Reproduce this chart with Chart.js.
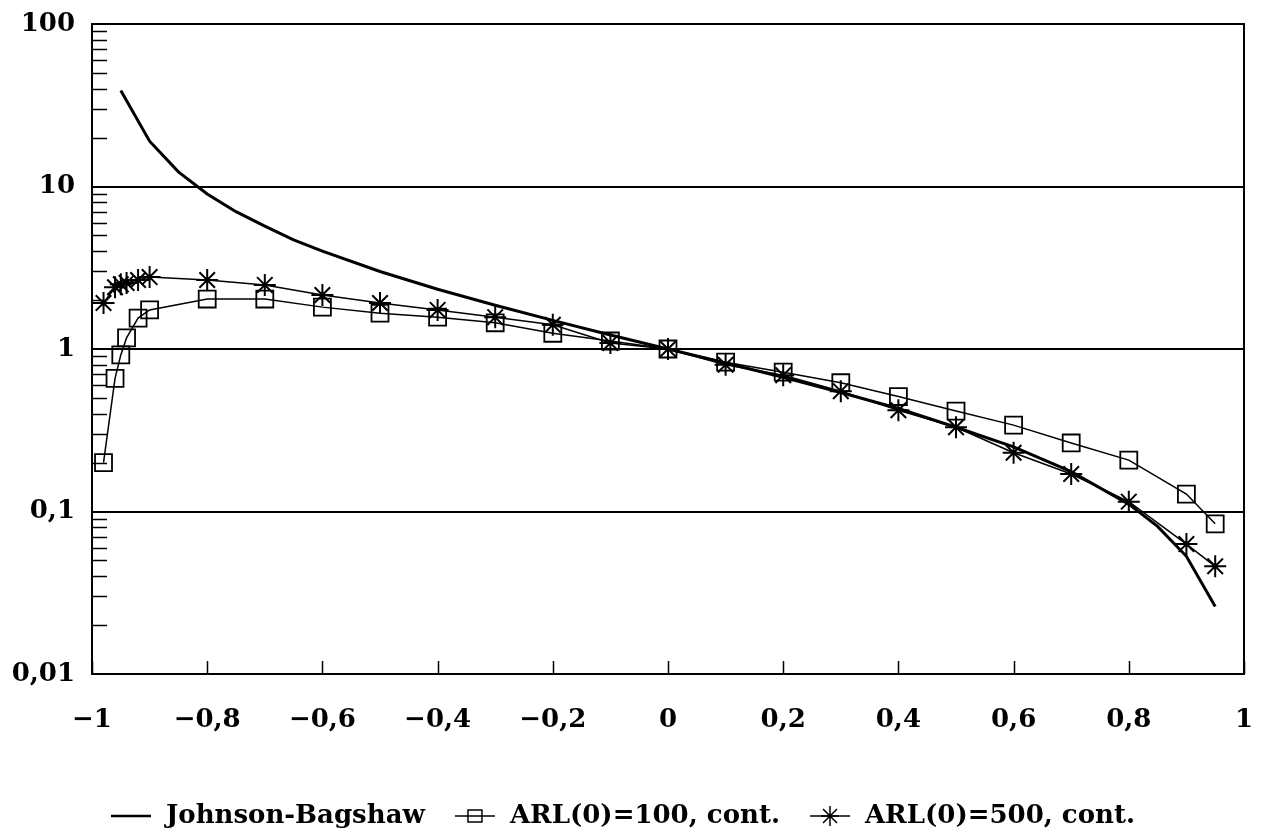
<!DOCTYPE html>
<html>
<head>
<meta charset="utf-8">
<script src="https://cdn.jsdelivr.net/npm/chart.js@4/dist/chart.umd.min.js"></script>
<style>
  html, body { margin: 0; padding: 0; background: #fff; }
  #chart { display: block; }
</style>
</head>
<body>
<canvas id="chart" width="1267" height="839"></canvas>
<script>
// values
const jbX = [-0.95, -0.9, -0.85, -0.8, -0.75, -0.7, -0.65, -0.6, -0.5, -0.4, -0.3, -0.2, -0.1, 0, 0.1, 0.2, 0.3, 0.4, 0.5, 0.6, 0.7, 0.8, 0.85, 0.9, 0.95];
const jbY = [39, 19, 12.3, 9, 7, 5.7, 4.7, 4.0, 3.0, 2.33, 1.86, 1.5, 1.22, 1.0, 0.82, 0.67, 0.54, 0.43, 0.33, 0.25, 0.176, 0.111, 0.081, 0.053, 0.026];

const arlX = [-0.98, -0.96, -0.95, -0.94, -0.92, -0.9, -0.8, -0.7, -0.6, -0.5, -0.4, -0.3, -0.2, -0.1, 0, 0.1, 0.2, 0.3, 0.4, 0.5, 0.6, 0.7, 0.8, 0.9, 0.95];
const arl100 = [0.20, 0.66, 0.92, 1.17, 1.55, 1.74, 2.03, 2.03, 1.81, 1.66, 1.57, 1.45, 1.25, 1.12, 1.0, 0.83, 0.72, 0.62, 0.51, 0.415, 0.34, 0.264, 0.207, 0.128, 0.084];
const arl500 = [1.92, 2.4, 2.5, 2.55, 2.66, 2.77, 2.66, 2.48, 2.15, 1.92, 1.74, 1.57, 1.41, 1.09, 1.0, 0.80, 0.69, 0.55, 0.42, 0.33, 0.23, 0.17, 0.115, 0.063, 0.046];

const seriesNames = ["Johnson-Bagshaw", "ARL(0)=100, cont.", "ARL(0)=500, cont."];

const xTickValues = [-1, -0.8, -0.6, -0.4, -0.2, 0, 0.2, 0.4, 0.6, 0.8, 1];
const xTickLabels = ["\u22121", "\u22120,8", "\u22120,6", "\u22120,4", "\u22120,2", "0", "0,2", "0,4", "0,6", "0,8", "1"];
const yTickValues = [0.01, 0.1, 1, 10, 100];
const yTickLabels = ["0,01", "0,1", "1", "10", "100"];

const pts = (xs, ys) => xs.map((x, i) => ({ x: x, y: ys[i] }));

// minor ticks 2..9 inside each decade on the y axis
let yMinor = [];
[0.01, 0.1, 1, 10].forEach(d => {
    for (let k = 2; k <= 9; k++) yMinor.push(d * k);
});

// small canvases used as legend icons
function makeIcon(kind) {
    let c = document.createElement("canvas");
    c.width = 44; c.height = 22;
    let g = c.getContext("2d");
    g.strokeStyle = "#000";
    g.lineWidth = kind === "line" ? 2.5 : 1.5;
    g.beginPath(); g.moveTo(2, 11); g.lineTo(42, 11); g.stroke();
    g.lineWidth = 1.5;
    if (kind === "rect") {
        g.strokeRect(15, 5, 14, 12);
    } else if (kind === "star") {
        g.beginPath();
        g.moveTo(22, 1); g.lineTo(22, 21);
        g.moveTo(13, 11); g.lineTo(31, 11);
        g.moveTo(15, 4); g.lineTo(29, 18);
        g.moveTo(29, 4); g.lineTo(15, 18);
        g.stroke();
    }
    return c;
}
const icons = [makeIcon("line"), makeIcon("rect"), makeIcon("star")];

const frameAndTicks = {
    id: "frameAndTicks",
    afterDatasetsDraw(chart) {
        const { ctx, chartArea: a, scales: { x, y } } = chart;
        ctx.save();
        ctx.strokeStyle = "#000";
        ctx.lineWidth = 2;
        ctx.strokeRect(a.left, a.top, a.right - a.left, a.bottom - a.top);
        ctx.lineWidth = 1.5;
        ctx.beginPath();
        yMinor.forEach(v => {
            let py = Math.round(y.getPixelForValue(v)) + 0.5;
            ctx.moveTo(a.left, py);
            ctx.lineTo(a.left + 15, py);
        });
        xTickValues.forEach(v => {
            let px = Math.round(x.getPixelForValue(v)) + 0.5;
            ctx.moveTo(px, a.bottom);
            ctx.lineTo(px, a.bottom - 13);
        });
        ctx.stroke();
        ctx.restore();
    }
};

const ctx = document.getElementById("chart").getContext("2d");

new Chart(ctx, {
    type: "line",
    data: {
        datasets: [{
            label: seriesNames[0],
            data: pts(jbX, jbY),
            borderColor: "#000",
            borderWidth: 3,
            pointRadius: 0,
            tension: 0
        }, {
            label: seriesNames[1],
            data: pts(arlX, arl100),
            borderColor: "#000",
            borderWidth: 1.5,
            pointStyle: "rect",
            pointRadius: 12,
            pointBorderWidth: 1.8,
            pointBackgroundColor: "rgba(0,0,0,0)",
            pointBorderColor: "#000",
            tension: 0
        }, {
            label: seriesNames[2],
            data: pts(arlX, arl500),
            borderColor: "#000",
            borderWidth: 1.5,
            pointStyle: "star",
            pointRadius: 11,
            pointBorderWidth: 2,
            pointBackgroundColor: "#000",
            pointBorderColor: "#000",
            tension: 0
        }]
    },
    options: {
        responsive: false,
        animation: false,
        layout: { padding: { left: 0, right: 23, top: 24, bottom: 0 } },
        plugins: {
            tooltip: { enabled: false },
            legend: {
                position: "bottom",
                labels: {
                    usePointStyle: true,
                    pointStyleWidth: 44,
                    padding: 28,
                    color: "#000",
                    font: { family: "DejaVu Serif", weight: "bold", size: 26 },
                    generateLabels: chart => chart.data.datasets.map((ds, i) => ({
                        text: ds.label,
                        pointStyle: icons[i],
                        datasetIndex: i,
                        hidden: false,
                        lineWidth: 0,
                        fontColor: "#000"
                    }))
                }
            }
        },
        scales: {
            x: {
                type: "linear",
                min: -1,
                max: 1,
                afterBuildTicks: scale => { scale.ticks = xTickValues.map(v => ({ value: v })); },
                afterFit: scale => {
                    scale.height = 165 - scale.chart.legend.height;
                    scale.paddingLeft = 0;
                    scale.paddingRight = 0;
                },
                grid: { display: false, drawTicks: false },
                border: { display: false },
                ticks: {
                    padding: 31,
                    color: "#000",
                    maxRotation: 0,
                    autoSkip: false,
                    font: { family: "DejaVu Serif", weight: "bold", size: 26 },
                    callback: (v, i) => xTickLabels[i]
                }
            },
            y: {
                type: "logarithmic",
                min: 0.01,
                max: 100,
                afterBuildTicks: scale => { scale.ticks = yTickValues.map(v => ({ value: v })); },
                afterFit: scale => {
                    scale.width = 92;
                    scale.paddingTop = 0;
                    scale.paddingBottom = 0;
                },
                grid: {
                    drawTicks: false,
                    color: "#000",
                    lineWidth: 2
                },
                border: { display: false },
                ticks: {
                    padding: 17,
                    color: "#000",
                    autoSkip: false,
                    font: { family: "DejaVu Serif", weight: "bold", size: 26 },
                    callback: (v, i) => yTickLabels[i]
                }
            }
        }
    },
    plugins: [frameAndTicks]
});
</script>
</body>
</html>
